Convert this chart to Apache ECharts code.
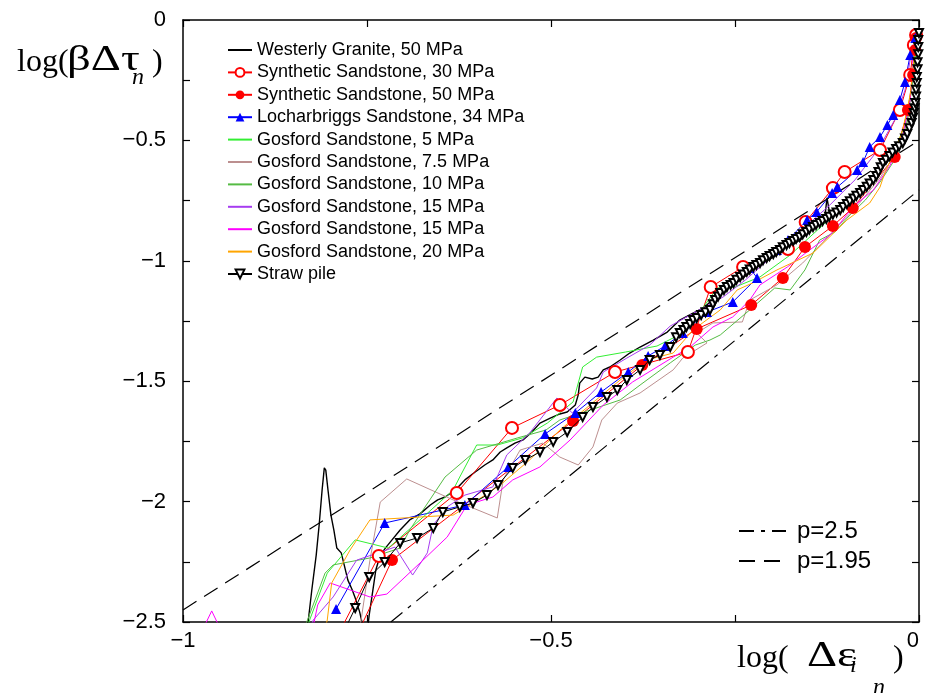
<!DOCTYPE html>
<html><head><meta charset="utf-8">
<script src="https://cdn.jsdelivr.net/npm/echarts@6/dist/echarts.min.js"></script>
<style>html,body{margin:0;padding:0;background:#fff}#c{width:929px;height:693px}</style>
</head><body><div id="c"></div>
<script>
// ---- data (x = log(Δε), y = log(βΔτ)) ----
const westerlyGranite = [[-0.833,-2.575],[-0.830,-2.5],[-0.825,-2.367],[-0.819,-2.222],[-0.815,-2.097],[-0.811,-1.952],[-0.808,-1.860],[-0.806,-1.869],[-0.803,-1.952],[-0.799,-2.056],[-0.795,-2.118],[-0.791,-2.193],[-0.785,-2.213],[-0.781,-2.263],[-0.776,-2.326],[-0.770,-2.367],[-0.765,-2.409],[-0.760,-2.458],[-0.755,-2.525],[-0.751,-2.575],[-0.747,-2.471],[-0.743,-2.388],[-0.738,-2.284],[-0.732,-2.222],[-0.724,-2.189],[-0.716,-2.159],[-0.705,-2.118],[-0.692,-2.076],[-0.678,-2.051],[-0.664,-2.014],[-0.654,-1.993],[-0.644,-1.981],[-0.630,-1.952],[-0.617,-1.910],[-0.603,-1.877],[-0.590,-1.848],[-0.579,-1.827],[-0.569,-1.794],[-0.560,-1.777],[-0.549,-1.757],[-0.538,-1.744],[-0.526,-1.711],[-0.515,-1.674],[-0.501,-1.653],[-0.488,-1.636],[-0.478,-1.628],[-0.467,-1.599],[-0.463,-1.557],[-0.461,-1.508],[-0.454,-1.483],[-0.444,-1.491],[-0.436,-1.483],[-0.429,-1.453],[-0.420,-1.441],[-0.406,-1.412],[-0.393,-1.383],[-0.379,-1.358],[-0.361,-1.329],[-0.342,-1.296],[-0.325,-1.246],[-0.307,-1.217],[-0.293,-1.196],[-0.270,-1.134],[-0.243,-1.080],[-0.216,-1.017],[-0.189,-0.968],[-0.162,-0.914],[-0.141,-0.860],[-0.128,-0.822],[-0.125,-0.739],[-0.121,-0.810],[-0.101,-0.768],[-0.080,-0.706],[-0.053,-0.623],[-0.026,-0.532],[-0.012,-0.449],[-0.005,-0.332],[-0.003,-0.208],[-0.001,-0.083]];
const synth30 = [[-0.793,-2.575],[-0.734,-2.226],[-0.628,-1.964],[-0.553,-1.694],[-0.488,-1.599],[-0.413,-1.462],[-0.314,-1.379],[-0.283,-1.109],[-0.239,-1.026],[-0.178,-0.951],[-0.154,-0.839],[-0.117,-0.698],[-0.101,-0.631],[-0.053,-0.540],[-0.026,-0.374],[-0.012,-0.228],[-0.007,-0.104],[-0.004,-0.062]];
const synth50 = [[-0.773,-2.616],[-0.716,-2.243],[-0.470,-1.665],[-0.376,-1.433],[-0.302,-1.283],[-0.228,-1.184],[-0.185,-1.071],[-0.155,-0.943],[-0.117,-0.855],[-0.090,-0.781],[-0.033,-0.569],[-0.015,-0.374],[-0.008,-0.228],[-0.005,-0.125],[-0.004,-0.075]];
const locharbriggs = [[-0.792,-2.446],[-0.726,-2.089],[-0.617,-2.014],[-0.558,-1.856],[-0.508,-1.719],[-0.467,-1.632],[-0.432,-1.545],[-0.395,-1.462],[-0.368,-1.395],[-0.345,-1.354],[-0.321,-1.300],[-0.288,-1.213],[-0.253,-1.171],[-0.220,-1.071],[-0.230,-1.030],[-0.193,-0.955],[-0.178,-0.914],[-0.152,-0.831],[-0.139,-0.797],[-0.118,-0.718],[-0.111,-0.694],[-0.084,-0.623],[-0.076,-0.590],[-0.067,-0.527],[-0.053,-0.486],[-0.043,-0.436],[-0.035,-0.395],[-0.026,-0.332],[-0.019,-0.257],[-0.012,-0.145],[-0.005,-0.075]];
const gosford5 = [[-0.833,-2.533],[-0.804,-2.297],[-0.766,-2.159],[-0.721,-2.193],[-0.678,-2.076],[-0.633,-1.952],[-0.624,-1.898],[-0.601,-1.765],[-0.573,-1.765],[-0.539,-1.736],[-0.505,-1.674],[-0.470,-1.586],[-0.457,-1.441],[-0.438,-1.400],[-0.399,-1.379],[-0.356,-1.354],[-0.318,-1.296],[-0.274,-1.113],[-0.250,-1.109],[-0.216,-1.067],[-0.175,-0.976],[-0.135,-0.864],[-0.094,-0.748],[-0.060,-0.644],[-0.033,-0.540],[-0.019,-0.436],[-0.010,-0.291],[-0.005,-0.166],[-0.003,-0.083]];
const gosford7_5 = [[-0.762,-2.575],[-0.746,-2.243],[-0.732,-2.002],[-0.696,-1.906],[-0.633,-1.993],[-0.573,-2.068],[-0.565,-1.910],[-0.542,-1.786],[-0.511,-1.757],[-0.488,-1.815],[-0.463,-1.848],[-0.443,-1.773],[-0.431,-1.661],[-0.410,-1.591],[-0.379,-1.549],[-0.334,-1.453],[-0.321,-1.404],[-0.288,-1.341],[-0.302,-1.300],[-0.280,-1.258],[-0.240,-1.254],[-0.230,-1.163],[-0.193,-1.100],[-0.158,-1.009],[-0.121,-0.893],[-0.083,-0.768],[-0.053,-0.656],[-0.029,-0.540],[-0.015,-0.415],[-0.010,-0.270],[-0.007,-0.145],[-0.010,-0.083]];
const gosford10 = [[-0.841,-2.575],[-0.807,-2.297],[-0.796,-2.263],[-0.746,-2.234],[-0.705,-2.193],[-0.692,-2.118],[-0.644,-1.898],[-0.601,-1.786],[-0.546,-1.736],[-0.507,-1.703],[-0.488,-1.661],[-0.447,-1.620],[-0.406,-1.578],[-0.379,-1.516],[-0.338,-1.424],[-0.304,-1.350],[-0.284,-1.329],[-0.270,-1.308],[-0.230,-1.204],[-0.196,-1.113],[-0.175,-1.121],[-0.155,-1.038],[-0.135,-0.914],[-0.114,-0.880],[-0.094,-0.810],[-0.073,-0.748],[-0.053,-0.673],[-0.033,-0.581],[-0.019,-0.478],[-0.012,-0.332],[-0.008,-0.208],[-0.005,-0.104]];
const gosford15a = [[-0.834,-2.575],[-0.823,-2.492],[-0.796,-2.396],[-0.764,-2.243],[-0.712,-2.189],[-0.688,-2.305],[-0.668,-2.213],[-0.660,-2.097],[-0.641,-2.022],[-0.617,-1.973],[-0.579,-1.939],[-0.560,-1.806],[-0.529,-1.715],[-0.492,-1.570],[-0.471,-1.632],[-0.438,-1.528],[-0.429,-1.462],[-0.397,-1.404],[-0.366,-1.350],[-0.338,-1.271],[-0.311,-1.225],[-0.266,-1.150],[-0.236,-1.080],[-0.202,-0.988],[-0.162,-0.880],[-0.121,-0.768],[-0.087,-0.664],[-0.056,-0.540],[-0.033,-0.415],[-0.019,-0.291],[-0.012,-0.166],[-0.010,-0.083]];
const gosford15b = [[-0.980,-2.575],[-0.961,-2.454],[-0.942,-2.575],[-0.827,-2.575],[-0.817,-2.429],[-0.800,-2.338],[-0.746,-2.396],[-0.723,-2.384],[-0.678,-2.255],[-0.641,-2.147],[-0.614,-2.014],[-0.579,-1.981],[-0.552,-1.910],[-0.515,-1.856],[-0.474,-1.744],[-0.429,-1.599],[-0.389,-1.503],[-0.334,-1.400],[-0.311,-1.358],[-0.280,-1.275],[-0.253,-1.233],[-0.230,-1.163],[-0.216,-1.100],[-0.179,-1.026],[-0.152,-0.963],[-0.121,-0.893],[-0.107,-0.843],[-0.090,-0.777],[-0.062,-0.706],[-0.039,-0.602],[-0.022,-0.478],[-0.012,-0.332],[-0.008,-0.187],[-0.011,-0.104]];
const gosford20 = [[-0.811,-2.575],[-0.804,-2.492],[-0.798,-2.338],[-0.773,-2.201],[-0.746,-2.076],[-0.678,-2.064],[-0.633,-2.056],[-0.606,-2.006],[-0.569,-1.931],[-0.529,-1.827],[-0.488,-1.703],[-0.447,-1.599],[-0.406,-1.495],[-0.370,-1.412],[-0.334,-1.383],[-0.307,-1.287],[-0.270,-1.204],[-0.247,-1.121],[-0.226,-1.092],[-0.193,-1.038],[-0.144,-0.968],[-0.098,-0.831],[-0.067,-0.760],[-0.053,-0.694],[-0.046,-0.631],[-0.035,-0.561],[-0.022,-0.457],[-0.012,-0.311],[-0.007,-0.166],[-0.004,-0.083]];
const strawPile = [[-0.787,-2.575],[-0.766,-2.442],[-0.747,-2.313],[-0.726,-2.251],[-0.705,-2.172],[-0.682,-2.151],[-0.660,-2.110],[-0.647,-2.043],[-0.624,-2.022],[-0.606,-2.006],[-0.587,-1.973],[-0.572,-1.931],[-0.552,-1.860],[-0.535,-1.827],[-0.515,-1.794],[-0.497,-1.752],[-0.478,-1.711],[-0.457,-1.649],[-0.443,-1.607],[-0.424,-1.566],[-0.410,-1.537],[-0.397,-1.495],[-0.379,-1.453],[-0.366,-1.412],[-0.352,-1.391],[-0.338,-1.358],
  [-0.330,-1.318],[-0.325,-1.300],[-0.320,-1.287],[-0.316,-1.275],[-0.311,-1.262],[-0.307,-1.246],[-0.302,-1.238],[-0.296,-1.225],[-0.290,-1.214],[-0.284,-1.204],[-0.280,-1.180],[-0.277,-1.163],[-0.273,-1.148],[-0.270,-1.134],[-0.265,-1.121],[-0.261,-1.109],[-0.256,-1.100],[-0.252,-1.092],[-0.248,-1.079],[-0.243,-1.067],[-0.239,-1.057],[-0.234,-1.046],[-0.230,-1.036],[-0.225,-1.026],[-0.221,-1.017],[-0.216,-1.009],[-0.212,-0.998],[-0.207,-0.988],[-0.203,-0.980],[-0.198,-0.972],[-0.194,-0.963],[-0.189,-0.955],[-0.185,-0.944],[-0.180,-0.934],[-0.176,-0.926],[-0.171,-0.918],[-0.167,-0.909],[-0.162,-0.901],[-0.158,-0.890],[-0.153,-0.880],[-0.149,-0.870],[-0.144,-0.860],[-0.140,-0.851],[-0.135,-0.843],[-0.131,-0.835],[-0.126,-0.826],[-0.122,-0.817],[-0.117,-0.808],[-0.112,-0.799],[-0.107,-0.789],[-0.103,-0.777],[-0.098,-0.764],[-0.094,-0.753],[-0.089,-0.741],[-0.085,-0.730],[-0.080,-0.718],[-0.076,-0.706],[-0.071,-0.693],[-0.067,-0.679],[-0.062,-0.664],[-0.058,-0.648],[-0.055,-0.631],[-0.052,-0.612],[-0.049,-0.594],[-0.045,-0.580],[-0.040,-0.565],[-0.036,-0.550],[-0.031,-0.536],[-0.027,-0.524],[-0.022,-0.511],[-0.019,-0.492],[-0.016,-0.473],[-0.013,-0.450],[-0.010,-0.428],[-0.008,-0.405],[-0.007,-0.386],[-0.006,-0.366],[-0.005,-0.345],[-0.004,-0.318],[-0.004,-0.290],[-0.003,-0.262],[-0.003,-0.237],[-0.002,-0.205],[-0.002,-0.175],[-0.001,-0.142],[-0.001,-0.112],[-0.001,-0.083],[0.000,-0.054]];
const lineP25 = [[-0.7176,-2.5],[0,-0.706]];
const lineP195 = [[-1,-2.45],[0,-0.5]];
const xTicks = [-1, -0.5, 0];
const yTicks = [0, -0.5, -1, -1.5, -2, -2.5];

const names = ['Westerly Granite, 50 MPa','Synthetic Sandstone, 30 MPa','Synthetic Sandstone, 50 MPa','Locharbriggs Sandstone, 34 MPa','Gosford Sandstone, 5 MPa','Gosford Sandstone, 7.5 MPa','Gosford Sandstone, 10 MPa','Gosford Sandstone, 15 MPa','Gosford Sandstone, 15 MPa ','Gosford Sandstone, 20 MPa','Straw pile'];
const withMarker = [false,true,true,true,false,false,false,false,false,false,true];

function fmt(list){ return v => { const hit = list.find(t => Math.abs(t - v) < 1e-6); if (hit === undefined) return ''; return hit === 0 ? '0' : '\u2212' + Math.abs(hit); }; }

const chart = echarts.init(document.getElementById('c'), null, {renderer:'canvas'});
function ln(name, data, color, extra){
  return Object.assign({type:'line', name, data, showSymbol:false, symbol:'none', animation:false,
    lineStyle:{color, width:1}, itemStyle:{color}, z:2}, extra||{});
}
const tickStyle = {inside:true, length:7, lineStyle:{color:'#000', width:1.2}};
const axLine = {onZero:false, lineStyle:{color:'#000', width:1.5}};
chart.setOption({
  animation:false,
  backgroundColor:'#fff',
  grid:{left:183, right:10, top:20, bottom:71},
  xAxis:[{type:'value', min:-1, max:0, interval:0.25, position:'bottom',
    axisLine:axLine, axisTick:tickStyle, splitLine:{show:false},
    axisLabel:{formatter:fmt(xTicks), fontFamily:'Liberation Sans', fontSize:22, color:'#000', margin:8, alignMaxLabel:'right'}},
    {type:'value', min:-1, max:0, interval:0.25, position:'top',
    axisLine:axLine, axisTick:tickStyle, splitLine:{show:false}, axisLabel:{show:false}}],
  yAxis:[{type:'value', min:-2.5, max:0, interval:0.25, position:'left',
    axisLine:axLine, axisTick:tickStyle, splitLine:{show:false},
    axisLabel:{formatter:fmt(yTicks), fontFamily:'Liberation Sans', fontSize:22, color:'#000', margin:17}},
    {type:'value', min:-2.5, max:0, interval:0.25, position:'right',
    axisLine:axLine, axisTick:tickStyle, splitLine:{show:false}, axisLabel:{show:false}}],
  legend:[{
    data:names.map((n,i) => withMarker[i] ? {name:n} : {name:n, itemStyle:{opacity:0}}),
    orient:'vertical', left:222, top:36, itemWidth:24, itemHeight:11, itemGap:4.4,
    selectedMode:false, textStyle:{fontFamily:'Liberation Sans', fontSize:18, lineHeight:18, color:'#000', padding:[0,0,0,0]}
  },{
    data:[{name:'p=2.5', itemStyle:{opacity:0}},{name:'p=1.95', itemStyle:{opacity:0}}],
    orient:'vertical', left:733, top:514, itemWidth:47, itemHeight:12, itemGap:6,
    selectedMode:false, textStyle:{fontFamily:'Liberation Sans', fontSize:24, lineHeight:24, color:'#000', padding:[0,0,0,6]}
  }],
  series:[
    ln(names[0], westerlyGranite, '#000', {lineStyle:{color:'#000', width:1.4}}),
    ln(names[1], synth30, '#ff0000', {showSymbol:true, symbol:'emptyCircle', symbolSize:12}),
    ln(names[2], synth50, '#ff0000', {showSymbol:true, symbol:'circle', symbolSize:12}),
    ln(names[3], locharbriggs, '#0000ff', {showSymbol:true, symbol:'triangle', symbolSize:10}),
    ln(names[4], gosford5, '#33ee33'),
    ln(names[5], gosford7_5, '#bc8f8f'),
    ln(names[6], gosford10, '#55bb44'),
    ln(names[7], gosford15a, '#a63cf0'),
    ln(names[8], gosford15b, '#ff00ff'),
    ln(names[9], gosford20, '#ffa500'),
    ln(names[10], strawPile, '#000', {showSymbol:true, symbol:'emptyTriangle', symbolRotate:180, symbolSize:8, lineStyle:{color:'#000', width:1}, z:3}),
    ln('p=2.5', lineP25, '#000', {lineStyle:{color:'#000', width:1.2, type:[15,7,4,7]}}),
    ln('p=1.95', lineP195, '#000', {lineStyle:{color:'#000', width:1.2, type:[16,9]}})
  ],
  graphic:[
    {type:'text', x:17, y:63, style:{text:'log(', fontFamily:'Liberation Serif', fontSize:32, fill:'#000', verticalAlign:'middle'}},
    {type:'text', x:67, y:61, scaleX:1.3, style:{text:'\u03b2\u0394\u03c4', fontFamily:'Liberation Serif', fontSize:36, fill:'#000', verticalAlign:'middle'}},
    {type:'text', x:132, y:78, style:{text:'n', fontFamily:'Liberation Serif', fontStyle:'italic', fontSize:24, fill:'#000', verticalAlign:'middle'}},
    {type:'text', x:152, y:63, style:{text:')', fontFamily:'Liberation Serif', fontSize:32, fill:'#000', verticalAlign:'middle'}},
    {type:'text', x:737, y:659, style:{text:'log(', fontFamily:'Liberation Serif', fontSize:32, fill:'#000', verticalAlign:'middle'}},
    {type:'text', x:807, y:657, scaleX:1.3, style:{text:'\u0394\u03b5', fontFamily:'Liberation Serif', fontSize:36, fill:'#000', verticalAlign:'middle'}},
    {type:'text', x:850, y:666, style:{text:'i', fontFamily:'Liberation Serif', fontStyle:'italic', fontSize:24, fill:'#000', verticalAlign:'middle'}},
    {type:'text', x:873, y:688, style:{text:'n', fontFamily:'Liberation Serif', fontStyle:'italic', fontSize:24, fill:'#000', verticalAlign:'middle'}},
    {type:'text', x:893, y:659, style:{text:')', fontFamily:'Liberation Serif', fontSize:32, fill:'#000', verticalAlign:'middle'}}
  ]
});
</script></body></html>
